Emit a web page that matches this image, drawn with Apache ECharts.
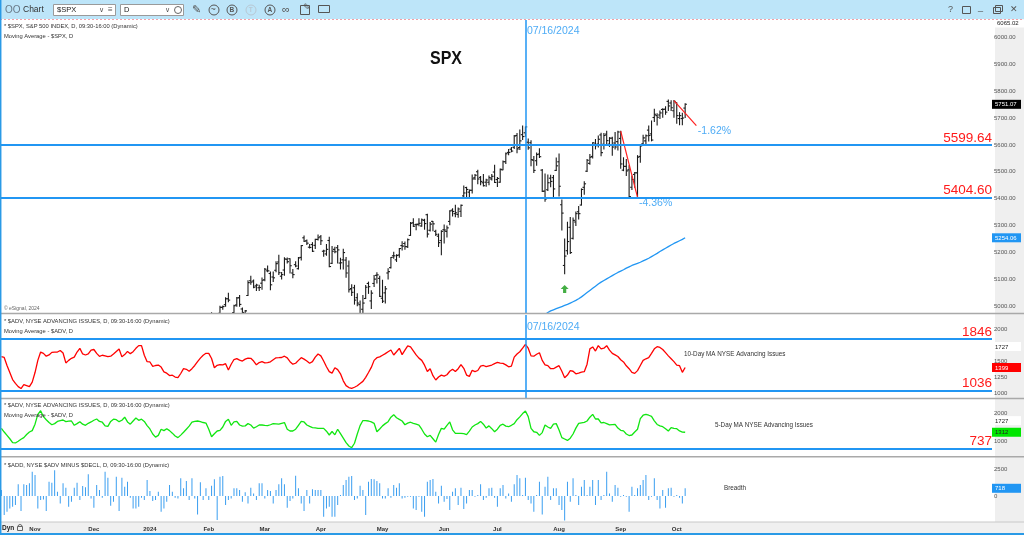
<!DOCTYPE html>
<html><head><meta charset="utf-8">
<script src="https://cdn.jsdelivr.net/npm/echarts@6/dist/echarts.min.js"></script>
<style>html,body{margin:0;padding:0;background:#fff;overflow:hidden}#c{width:1024px;height:535px}</style>
</head><body><div id="c"></div><script>
// ---------------- DATA ----------------
const firstDay = '2023-10-16';
const holidays = ['2023-11-23','2023-12-25','2024-01-01','2024-01-15','2024-02-19','2024-03-29','2024-05-27','2024-06-19','2024-07-04','2024-09-02','2024-11-28','2024-12-25','2025-01-01','2025-01-20','2025-02-17'];
const totalSlots = 354;          // trading-day slots on the time axis (incl. empty future)
const barsCount = 245;           // trading days with data
const spxFirstIndex = 74;        // 2024-02-01 (earlier bars are below the visible range)
const spxOpen = [4862,4917,4950,4945,4973,4995,5005,5027,4967,4976,5004,5031,4989,4964,5039,5094,5093,5075,5068,5085,
5098,5131,5121,5108,5133,5164,5111,5134,5174,5176,5123,5154,5139,5181,5254,5243,5219,5229,5226,5248,
5258,5204,5194,5244,5159,5211,5217,5160,5172,5171,5149,5065,5068,5031,5005,4988,5028,5084,5019,5084,5114,5103,
5029,5049,5123,5143,5187,5172,5190,5225,5233,5221,5263,5310,5303,5305,5298,5319,5340,5282,5315,5278,5260,5244,
5284,5278,5315,5357,5344,5341,5353,5410,5441,5424,5431,5477,5500,5479,5459,5461,5461,5473,5499,
5471,5461,5507,5537,5572,5584,5591,5635,5590,5638,5645,5610,5608,5543,5541,5566,5506,5428,5433,5476,5478,5505,
5537,5377,5151,5206,5293,5252,5313,5351,5376,5442,5502,5531,5557,5603,5603,5637,5602,5640,5603,5625,5607,5612,
5624,5506,5520,5507,5442,5490,5496,5557,5604,5615,5655,5641,5702,5709,5711,5732,5733,5762,5756,5727,
5757,5698,5698,5737];
const spxHigh = [4907,4975,4963,4964,4999,5000,5031,5048,4971,5003,5032,5039,4993,4983,5094,5111,5097,5081,5077,5104,
5140,5149,5127,5127,5165,5189,5125,5180,5179,5176,5136,5165,5181,5225,5261,5246,5229,5236,5249,5264,
5263,5208,5229,5256,5222,5219,5225,5178,5211,5181,5168,5079,5077,5046,5019,5039,5076,5089,5057,5114,5124,5111,
5096,5073,5139,5181,5200,5191,5214,5239,5238,5250,5311,5325,5305,5325,5324,5323,5342,5311,5315,5282,5268,5280,
5302,5298,5355,5362,5375,5365,5376,5447,5442,5432,5488,5490,5506,5482,5490,5472,5484,5490,5524,
5479,5510,5540,5570,5583,5590,5635,5642,5655,5670,5667,5622,5615,5557,5570,5586,5508,5492,5488,5487,5486,5551,
5566,5395,5250,5312,5330,5328,5350,5371,5436,5463,5546,5564,5608,5620,5633,5643,5642,5651,5627,5628,5646,5651,
5651,5552,5546,5522,5484,5497,5560,5600,5636,5637,5670,5689,5733,5716,5726,5735,5742,5767,5764,5765,
5757,5720,5718,5753];
const spxLow = [4853,4907,4919,4929,4969,4988,4999,5016,4920,4964,4999,4999,4955,4947,5039,5081,5068,5058,5058,5062,
5094,5128,5061,5091,5128,5117,5101,5115,5160,5123,5105,5146,5138,5171,5240,5229,5216,5203,5214,5246,
5229,5185,5189,5146,5158,5198,5160,5138,5138,5107,5052,5039,5007,5001,4953,4969,5028,5047,4991,5073,5086,5035,
5013,5011,5101,5142,5178,5166,5182,5209,5211,5218,5263,5296,5284,5299,5297,5286,5257,5279,5280,5263,5222,5191,
5235,5257,5303,5335,5332,5331,5333,5404,5403,5403,5421,5471,5455,5452,5447,5446,5452,5469,5460,
5445,5461,5507,5531,5563,5574,5587,5571,5583,5620,5632,5584,5522,5497,5524,5553,5426,5390,5430,5444,5401,5505,
5410,5283,5120,5193,5196,5250,5300,5324,5376,5416,5501,5528,5551,5585,5592,5560,5585,5602,5594,5561,5585,5581,
5513,5504,5486,5402,5434,5442,5406,5535,5604,5605,5614,5615,5687,5674,5698,5703,5714,5728,5728,5703,
5681,5675,5675,5702];
const spxClose = [4906,4959,4942,4954,4995,4998,5027,5022,4953,5001,5030,5006,4976,4982,5087,5089,5070,5078,5069,5096,
5137,5131,5079,5105,5158,5124,5117,5175,5165,5150,5117,5149,5179,5225,5241,5234,5218,5204,5248,5254,
5243,5205,5211,5147,5204,5202,5209,5161,5199,5123,5061,5051,5022,5011,4967,5011,5070,5072,5048,5100,5116,5036,
5018,5064,5128,5181,5187,5188,5214,5223,5221,5247,5308,5297,5303,5308,5321,5307,5268,5305,5306,5267,5236,5278,
5283,5291,5354,5352,5347,5361,5375,5421,5434,5431,5473,5487,5473,5464,5448,5469,5478,5483,5460,
5475,5509,5537,5567,5572,5577,5633,5585,5615,5631,5667,5589,5545,5505,5564,5556,5427,5399,5459,5464,5436,5522,
5446,5346,5186,5240,5199,5319,5344,5344,5434,5455,5543,5554,5608,5597,5621,5571,5635,5616,5625,5592,5592,5648,
5529,5520,5503,5408,5471,5496,5554,5596,5626,5634,5635,5618,5714,5703,5719,5732,5722,5745,5738,5762,
5709,5709,5700,5751.07];
const maFirstIndex = 194;
const spxMA = [4968,4976,4982,4986,4990,4994,4998,5002,5006,5011,5016,5021,5027,5034,5042,5050,5058,5066,5074,5082,
5089,5095,5101,5107,5113,5119,5125,5130,5135,5141,5146,5151,5155,5159,5163,5168,5173,5178,5184,5190,
5196,5203,5209,5215,5221,5227,5233,5238,5243,5248,5254.06];
const adv10 = [1568,1555,1430,1320,1210,1150,1100,1070,1130,1115,
1100,1170,1320,1510,1640,1620,1575,1595,1635,1640,
1640,1665,1625,1470,1510,1542,1560,1640,1698,1610,
1594,1610,1670,1680,1620,1572,1590,1580,1568,1575,
1610,1650,1688,1565,1600,1650,1615,1646,1698,1740,
1740,1590,1490,1485,1415,1430,1437,1405,1330,1310,
1272,1278,1250,1240,1305,1380,1370,1340,1380,1430,
1490,1545,1590,1620,1620,1540,1395,1433,1445,1440,
1458,1360,1450,1523,1538,1515,1500,1530,1545,1542,
1500,1440,1475,1490,1470,1475,1488,1520,1550,1552,
1555,1575,1550,1490,1450,1465,1510,1552,1530,1500,
1465,1490,1560,1610,1580,1500,1410,1335,1310,1395,
1365,1300,1190,1115,1085,1073,1090,1113,1150,1182,
1245,1320,1400,1510,1552,1565,1590,1615,1645,1672,
1594,1645,1698,1600,1670,1735,1720,1660,1595,1545,
1510,1435,1335,1380,1270,1203,1250,1280,1265,1285,
1340,1370,1335,1380,1445,1385,1280,1260,1355,1335,
1352,1420,1430,1413,1425,1437,1460,1478,1468,1463,
1440,1410,1420,1560,1610,1645,1700,1760,1700,1580,
1575,1605,1630,1510,1440,1428,1380,1380,1405,1427,
1340,1240,1280,1350,1340,1300,1310,1325,1333,1450,
1690,1720,1656,1740,1690,1700,1740,1670,1620,1595,
1570,1520,1485,1425,1380,1323,1307,1350,1430,1510,
1535,1552,1620,1690,1724,1712,1680,1630,1580,1535,
1490,1437,1427,1323,1399];
const adv5 = [1452,1320,1200,1080,940,930,990,1060,1120,1230,
1320,1370,1600,1950,2080,1869,1760,1660,1580,1620,
1700,1730,1750,1690,1710,1714,1560,1620,1690,1600,
1560,1631,1680,1740,1785,1700,1670,1540,1520,1700,
1780,1760,1690,1740,1850,1680,1600,1714,1820,1740,
1780,1700,1550,1430,1250,1140,1200,1420,1370,1440,
1370,1280,1180,1120,1210,1310,1420,1530,1670,1700,
1714,1690,1660,1640,1420,1150,1260,1357,1380,1500,
1700,1780,1560,1680,1700,1571,1530,1540,1620,1570,
1460,1510,1571,1571,1560,1550,1580,1620,1610,1600,
1630,1660,1420,1357,1357,1420,1560,1700,1680,1571,
1520,1476,1465,1452,1452,1452,1350,1214,1340,1220,
1420,1260,1100,940,820,760,920,1250,1550,1730,
1730,1714,1680,1631,1330,1430,1540,1620,1690,1850,
1940,1830,1770,1714,1580,1640,1670,1630,1600,1570,
1420,1250,1150,1200,1080,960,1230,1450,1420,1560,
1680,1400,1274,1274,1274,1260,1230,1350,1500,1570,
1620,1700,1600,1460,1540,1440,1330,1420,1560,1600,
1530,1510,1560,1620,1760,1860,1980,2071,1869,1450,
1330,1310,1200,1300,1571,1500,1452,1600,1620,1393,
1120,1071,1020,1100,1250,1460,1631,1650,1666,1714,
1850,1952,1785,1785,1650,1660,1620,1575,1585,1595,
1460,1380,1360,1250,1195,1214,1320,1420,1800,1920,
1950,1920,1880,1720,1590,1540,1512,1440,1357,1480,
1452,1440,1360,1320,1312];
const breadth = [556,-1761,-1452,-1143,-989,-834,1082,-1391,1082,1020,
1174,2256,1947,-1143,-371,-309,-1391,1329,1236,2379,
402,-680,1174,773,-989,-525,773,1236,-371,927,
803,2009,-216,-1082,1020,556,-155,2256,1700,-896,
-525,1792,-1391,1700,865,1329,-155,-1143,-1143,-989,
-155,-371,1483,464,-464,-371,402,-1452,-1143,-525,
1020,402,-155,-216,1638,711,1391,-371,1638,-216,
-1700,1267,-371,711,-371,958,1545,-2225,1792,1854,
-834,-371,-216,711,711,556,-525,340,-680,773,
247,-371,1174,1174,-216,556,464,-680,556,1082,
1638,1082,-1082,-464,-216,1885,711,-680,-1391,556,
-680,618,556,556,556,-1916,-1143,-989,-1916,-1916,
-834,93,1020,1483,1792,1854,-371,-216,958,556,
-1761,1329,1576,1545,1391,1174,-216,-216,711,-155,
1020,773,1174,-216,-155,-62,-62,-1143,-1298,-62,
-1452,-1916,1329,1483,1576,402,-680,958,-525,-278,
-1298,402,711,-834,773,-1205,-680,556,556,-62,
93,1082,-371,-155,711,773,-155,-989,711,1020,
-216,247,-525,1082,1947,
1638,93,1700,-371,-680,-1452,93,1329,-1700,865,
1792,-371,711,711,-834,-1298,-2256,1329,-525,1638,
93,-834,865,1483,93,865,1483,-834,1483,-371,
93,2256,247,-525,1020,773,-62,93,-62,-1452,
865,93,711,1020,1483,1947,-371,-62,1638,-371,
-1143,556,-1082,711,773,-62,93,-155,-680,718];
const priceLevels = [5599.64, 5404.60];
const adv10Levels = [1846, 1036];
const adv5Levels = [737];
const markerDate = '2024-07-16';
const trendLine1 = [['2024-09-03', 5651], ['2024-09-11', 5404.6]];
const trendLine2 = [['2024-09-30', 5765], ['2024-10-10', 5672]];
const priceTicks = [5000,5100,5200,5300,5400,5500,5600,5700,5800,5900,6000];
const adv10Ticks = [1000,1250,1500,2000];
const adv5Ticks = [1000,2000];
const breadthTicks = [0,2500];
const priceTags = [5751.07, 5254.06];
const adv10Tags = [1727, 1399];
const adv5Tags = [1727, 1312];
const breadthTags = [718];
const priceMax = 6065.02;

// ---------------- BUILD CATEGORIES ----------------
const cats = [];
(function(){
  const d = new Date(firstDay + 'T00:00:00Z');
  const hs = new Set(holidays);
  while (cats.length < totalSlots) {
    const wd = d.getUTCDay();
    const s = d.toISOString().slice(0,10);
    if (wd !== 0 && wd !== 6 && !hs.has(s)) cats.push(s);
    d.setUTCDate(d.getUTCDate()+1);
  }
})();
const monthNames = ['Jan','Feb','Mar','Apr','May','Jun','Jul','Aug','Sep','Oct','Nov','Dec'];
const labelIdx = new Set();
for (let i = 1; i < barsCount; i++) if (cats[i].slice(5,7) !== cats[i-1].slice(5,7)) labelIdx.add(i);

const ohlcData = spxOpen.map((o,k)=>[spxFirstIndex+k, o, spxHigh[k], spxLow[k], spxClose[k]]);
const maData = cats.map((_,i)=> (i>=maFirstIndex && i<maFirstIndex+spxMA.length) ? spxMA[i-maFirstIndex] : '-');

// ---------------- STYLE ----------------
const FONT = 'Liberation Sans, Arial, sans-serif';
const BLUE = '#2196f3';
const GRID = [
  {left:0, right:29, top:20, height:293},
  {left:0, right:29, top:315, height:83},
  {left:0, right:29, top:400, height:56},
  {left:0, right:29, top:458, height:64}
];
function xAx(g){
  return {type:'category', gridIndex:g, data:cats, boundaryGap:true,
    axisLine:{show:false}, axisTick:{show:false}, splitLine:{show:false},
    axisLabel: g===3 ? {show:true, interval:(i)=>labelIdx.has(i), margin:4,
      formatter:(v)=>{const m=+v.slice(5,7); return m===1 ? v.slice(0,4) : monthNames[m-1];},
      fontSize:6, fontWeight:'bold', color:'#333', fontFamily:FONT} : {show:false}};
}
function yMain(g,min,max,ticks,fmt){
  return {type:'value', gridIndex:g, position:'right', min, max,
    axisLine:{show:false}, axisTick:{show:false}, splitLine:{show:false},
    axisLabel:{customValues:ticks, formatter:fmt, fontSize:6, color:'#555', margin:2, fontFamily:FONT}};
}
const tagRich = {
  k:{backgroundColor:'#000', color:'#fff'}, b:{backgroundColor:BLUE, color:'#fff'},
  w:{backgroundColor:'#fff', color:'#222'}, r:{backgroundColor:'#ff0000', color:'#fff'},
  g:{backgroundColor:'#00e600', color:'#222'}
};
Object.values(tagRich).forEach(s=>Object.assign(s,{fontSize:6, fontFamily:FONT, padding:[2,3,1,3], width:23, align:'left'}));
function yTag(g,min,max,tags,styles,fmt){
  return {type:'value', gridIndex:g, position:'right', min, max,
    axisLine:{show:false}, axisTick:{show:false}, splitLine:{show:false},
    axisLabel:{customValues:tags, margin:0, rich:tagRich,
      formatter:(v)=>'{'+styles[tags.indexOf(v)]+'|'+fmt(v)+'}'}};
}
const f2 = v=>Number(v).toFixed(2), f0 = v=>String(Math.round(v));
function levelLines(levels, fmt){
  return levels.map(v=>({yAxis:v, label:{formatter:fmt(v)}}));
}
const levelStyle = {silent:true, symbol:['none','none'], animation:false,
  lineStyle:{color:BLUE, width:2, type:'solid'},
  label:{show:true, position:'insideEndTop', distance:[0,0], color:'#ff1a1a', fontSize:13.5, fontFamily:FONT, padding:0}};
const vline = {xAxis:markerDate, lineStyle:{width:1.5}, label:{show:false}};

function renderOHLC(params, api){
  const i=api.value(0), o=api.value(1), h=api.value(2), l=api.value(3), c=api.value(4);
  const pH=api.coord([i,h]), pL=api.coord([i,l]), pO=api.coord([i,o]), pC=api.coord([i,c]);
  const w=1.8, st={stroke:'#1a1a1a', lineWidth:1.1};
  return {type:'group', children:[
    {type:'line', shape:{x1:pH[0],y1:pH[1]-0.5,x2:pL[0],y2:pL[1]+0.5}, style:st},
    {type:'line', shape:{x1:pO[0]-w,y1:pO[1],x2:pO[0],y2:pO[1]}, style:st},
    {type:'line', shape:{x1:pC[0],y1:pC[1],x2:pC[0]+w,y2:pC[1]}, style:st}
  ]};
}

function txt(t,x,y,size,opts){
  return Object.assign({type:'text', x, y, z:100, style:Object.assign({text:t, fontSize:size||6, fontFamily:FONT, fill:'#333', verticalAlign:'middle'}, (opts&&opts.style)||{})}, opts&&opts.el||{});
}
function circ(cx,cy,r,color){return {type:'circle', z:100, shape:{cx,cy,r}, style:{fill:'none', stroke:color||'#555', lineWidth:1}};}

const graphics = [
  {type:'rect', z:-1, shape:{x:995,y:19,width:29,height:503}, style:{fill:'#efefef'}},
  {type:'rect', z:-1, shape:{x:0,y:522,width:1024,height:13}, style:{fill:'#f0f0f0'}},
  {type:'rect', z:100, shape:{x:0,y:0,width:1024,height:19}, style:{fill:'#bde5f9'}},
  {type:'line', z:100, shape:{x1:0,y1:19.5,x2:1024,y2:19.5}, style:{stroke:'#f2a0a8', lineWidth:1, lineDash:[2,2]}},
  // separators
  {type:'line', z:50, shape:{x1:0,y1:313.5,x2:1024,y2:313.5}, style:{stroke:'#a9a9a9', lineWidth:1.5}},
  {type:'line', z:50, shape:{x1:0,y1:398.5,x2:1024,y2:398.5}, style:{stroke:'#a9a9a9', lineWidth:1.5}},
  {type:'line', z:50, shape:{x1:0,y1:456.8,x2:1024,y2:456.8}, style:{stroke:'#a9a9a9', lineWidth:1.5}},
  {type:'line', z:50, shape:{x1:0,y1:522,x2:1024,y2:522}, style:{stroke:'#c8c8c8', lineWidth:1}},
  // frame
  {type:'line', z:120, shape:{x1:0.7,y1:0,x2:0.7,y2:535}, style:{stroke:'#2a9ae6', lineWidth:1.5}},
  {type:'line', z:120, shape:{x1:0,y1:534,x2:1024,y2:534}, style:{stroke:'#2a9ae6', lineWidth:2}},
  // toolbar
  txt('OO',5,10,10,{style:{fill:'#6a7a88'}}),
  txt('Chart',23,10,8.5,{style:{fill:'#333'}}),
  {type:'rect', z:100, shape:{x:53.5,y:4.5,width:62,height:11}, style:{fill:'#fff', stroke:'#9a9a9a', lineWidth:1}},
  txt('$SPX',57,10,7.5,{style:{fill:'#222'}}),
  txt('\u2228',99,10,7,{style:{fill:'#555'}}),
  txt('\u2261',108,10,8,{style:{fill:'#555'}}),
  {type:'rect', z:100, shape:{x:120.5,y:4.5,width:63,height:11}, style:{fill:'#fff', stroke:'#9a9a9a', lineWidth:1}},
  txt('D',124,10,7.5,{style:{fill:'#222'}}),
  txt('\u2228',165,10,7,{style:{fill:'#555'}}),
  circ(178,10,3.5,'#666'),
  txt('\u270E',192,10,11,{style:{fill:'#555'}}),
  circ(214,10,5,'#555'), txt('~',210.5,9.5,9,{style:{fill:'#555'}}),
  circ(232,10,5,'#555'), txt('B',229.5,10,6.5,{style:{fill:'#555', fontWeight:'bold'}}),
  circ(251,10,5,'#b8c8d4'), txt('T',248.8,10,6.5,{style:{fill:'#b8c8d4', fontWeight:'bold'}}),
  circ(270,10,5,'#555'), txt('A',267.5,10,6.5,{style:{fill:'#555', fontWeight:'bold'}}),
  txt('\u221E',282,10,11,{style:{fill:'#555'}}),
  {type:'rect', z:100, shape:{x:300.5,y:5.5,width:9,height:9}, style:{fill:'none', stroke:'#555', lineWidth:1}},
  txt('\u270E',303,8,9,{style:{fill:'#555'}}),
  {type:'rect', z:100, shape:{x:318.5,y:5.5,width:11,height:7}, style:{fill:'none', stroke:'#555', lineWidth:1}},
  txt('?',948,10,9,{style:{fill:'#555'}}),
  {type:'rect', z:100, shape:{x:962.5,y:6.5,width:8,height:7}, style:{fill:'none', stroke:'#555', lineWidth:1}},
  txt('_',978,8,9,{style:{fill:'#555'}}),
  {type:'rect', z:100, shape:{x:993.5,y:7.5,width:7,height:6}, style:{fill:'none', stroke:'#555', lineWidth:1}},
  {type:'rect', z:100, shape:{x:995.5,y:5.5,width:7,height:6}, style:{fill:'none', stroke:'#555', lineWidth:1}},
  txt('\u2715',1010,10,9,{style:{fill:'#555'}}),
  // top max label
  {type:'rect', z:90, shape:{x:994,y:19.5,width:30,height:8}, style:{fill:'#fff'}},
  txt(f2(priceMax),997,23.5,6,{style:{fill:'#222'}}),
  // panel headers
  txt('* $SPX, S&P 500 INDEX, D, 09:30-16:00 (Dynamic)',4,26.5,5.8),
  txt('Moving Average - $SPX, D',4,36,5.8),
  txt('\u00A9 eSignal, 2024',4,309,5,{style:{fill:'#666'}}),
  txt('* $ADV, NYSE ADVANCING ISSUES, D, 09:30-16:00 (Dynamic)',4,321.7,5.8),
  txt('Moving Average - $ADV, D',4,331.3,5.8),
  txt('* $ADV, NYSE ADVANCING ISSUES, D, 09:30-16:00 (Dynamic)',4,405.7,5.8),
  txt('Moving Average - $ADV, D',4,415.2,5.8),
  txt('* $ADD, NYSE $ADV MINUS $DECL, D, 09:30-16:00 (Dynamic)',4,465,5.8),
  txt('10-Day MA NYSE Advancing Issues',684,354,6.3),
  txt('5-Day MA NYSE Advancing Issues',715,425.5,6.3),
  txt('Breadth',724,488,6.3),
  txt('SPX',430,73,16,{style:{fill:'#111', fontWeight:'bold'}, el:{scaleY:1.2, originY:73}}),
  txt('Dyn',2,528,6.5,{style:{fill:'#222', fontWeight:'bold'}}),
  {type:'rect', z:100, shape:{x:17.5,y:526.5,width:5,height:4}, style:{fill:'none', stroke:'#666', lineWidth:1}},
  {type:'arc', z:100, shape:{cx:20,cy:526.5,r:2,startAngle:Math.PI,endAngle:0}, style:{fill:'none', stroke:'#666', lineWidth:1}}
];

const noteLabel = {show:true, position:'right', distance:1, color:BLUE, fontSize:10.5, fontFamily:FONT};
const option = {
  animation:false,
  backgroundColor:'#fff',
  grid: GRID,
  xAxis: [xAx(0), xAx(1), xAx(2), xAx(3)],
  yAxis: [
    yMain(0, 4974, priceMax, priceTicks, f2),
    yTag(0, 4974, priceMax, priceTags, ['k','b'], f2),
    yMain(1, 922, 2219, adv10Ticks, f0),
    yTag(1, 922, 2219, adv10Tags, ['w','r'], f0),
    yMain(2, 464, 2464, adv5Ticks, f0),
    yTag(2, 464, 2464, adv5Tags, ['w','g'], f0),
    yMain(3, -2400, 3519, breadthTicks, f0),
    yTag(3, -2400, 3519, breadthTags, ['b'], f0)
  ],
  graphic: {elements: graphics},
  series: [
    {type:'custom', name:'SPX', xAxisIndex:0, yAxisIndex:0, clip:true, renderItem:renderOHLC,
      encode:{x:0, y:[1,2,3,4]}, data:ohlcData, z:3},
    {type:'line', name:'MA', xAxisIndex:0, yAxisIndex:0, data:maData, showSymbol:false, symbol:'none',
      lineStyle:{color:BLUE, width:1.3}, clip:true, z:2,
      markLine:Object.assign({}, levelStyle, {data: levelLines(priceLevels, f2).concat([vline])})},
    {type:'line', name:'trend1', xAxisIndex:0, yAxisIndex:0, data:trendLine1, symbol:'none',
      lineStyle:{color:'#ff2020', width:1.2}, z:4},
    {type:'line', name:'trend2', xAxisIndex:0, yAxisIndex:0, data:trendLine2, symbol:'none',
      lineStyle:{color:'#ff2020', width:1.2}, z:4},
    {type:'scatter', name:'arrow', xAxisIndex:0, yAxisIndex:0, data:[['2024-08-05', 5063]],
      symbol:'path://M5,0 L10,5 L7,5 L7,10 L3,10 L3,5 L0,5 Z', symbolSize:[8,8], itemStyle:{color:'#159a15'}, z:5},
    {type:'scatter', name:'notes', xAxisIndex:0, yAxisIndex:0, symbolSize:1, itemStyle:{color:'rgba(0,0,0,0)'}, z:6,
      label:noteLabel,
      data:[
        {value:[markerDate, 6023], label:{formatter:'07/16/2024'}},
        {value:['2024-09-11', 5384], label:{formatter:'-4.36%'}},
        {value:['2024-10-10', 5652], label:{formatter:'-1.62%'}}
      ]},
    {type:'line', name:'ADV10', xAxisIndex:1, yAxisIndex:2, data:adv10, symbol:'none', showSymbol:false,
      lineStyle:{color:'#ff0000', width:1.3}, z:3,
      markLine:Object.assign({}, levelStyle, {data: levelLines(adv10Levels, f0).concat([vline])})},
    {type:'scatter', name:'notes2', xAxisIndex:1, yAxisIndex:2, symbolSize:1, itemStyle:{color:'rgba(0,0,0,0)'}, z:6,
      label:noteLabel,
      data:[{value:[markerDate, 2035], label:{formatter:'07/16/2024'}}]},
    {type:'line', name:'ADV5', xAxisIndex:2, yAxisIndex:4, data:adv5, symbol:'none', showSymbol:false,
      lineStyle:{color:'#11e611', width:1.3}, z:3,
      markLine:Object.assign({}, levelStyle, {data: levelLines(adv5Levels, f0)})},
    {type:'bar', name:'Breadth', xAxisIndex:3, yAxisIndex:6, data:breadth, barWidth:1,
      itemStyle:{color:'#3a9ef0'}, z:3}
  ]
};
const chart = echarts.init(document.getElementById('c'), null, {renderer:'canvas'});
chart.setOption(option);
</script></body></html>
